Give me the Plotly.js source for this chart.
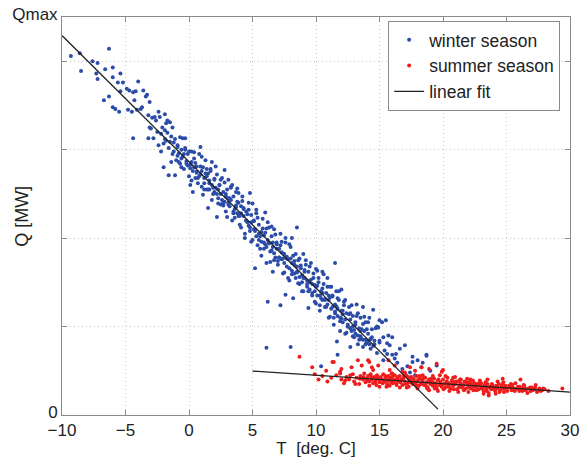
<!DOCTYPE html>
<html>
<head>
<meta charset="utf-8">
<script src="https://cdn.plot.ly/plotly-3.0.1.min.js"></script>
<style>html,body{margin:0;padding:0;background:#fff;}#chart{width:581px;height:458px;}</style>
</head>
<body>
<div id="chart"></div>
<script>
// Winter season points: [T (deg C), Q (units where Qmax = 4.5)]
const winterPoints = [
[-9.3,4.06],[-8.6,4.09],[-8.5,3.89],[-7.6,4.00],[-7.2,3.98],[-7.3,3.86],[-7.2,3.80],[-6.6,3.91],[-6.3,4.14],[-6.0,3.93],
[-5.4,3.86],[-6.0,3.82],[-5.6,3.76],[-5.4,3.66],[-4.9,3.69],[-4.7,3.67],[-4.0,3.77],[-6.7,3.56],[-6.3,3.60],[-6.0,3.48],
[-5.8,3.46],[-5.5,3.43],[-4.4,3.65],[-4.3,3.56],[-3.6,3.67],[-3.3,3.62],[-3.1,3.54],[-4.5,3.43],[-4.1,3.45],[-3.7,3.48],
[-3.2,3.39],[-2.9,3.36],[-2.6,3.33],[-2.3,3.37],[-1.9,3.40],[-1.7,3.33],[-1.5,3.31],[-1.3,3.25],[-2.1,3.25],[-1.9,3.22],
[-3.1,3.25],[-2.5,3.20],[-1.7,3.19],[-4.4,3.13],[-3.2,3.13],[-2.8,3.13],[-0.7,3.14],[-0.3,3.13],
[-2.4,3.05],[-2.2,2.98],[-2.0,2.80],[-1.8,3.10],[-1.6,3.02],[-1.6,2.71],[-1.4,3.15],[-1.3,2.95],[-1.2,3.08],[-1.1,2.71],
[-1.0,2.88],[-0.9,3.05],[-0.8,2.96],[-0.7,2.84],[-0.6,3.00],[-0.5,2.92],[-0.4,2.78],[-0.3,3.02],[-0.2,2.87],[-0.1,2.95],
[0.0,2.70],[0.1,2.60],[0.1,2.83],[0.2,2.98],[0.3,2.52],[0.3,2.76],[0.4,2.90],[0.5,2.68],[0.6,2.81],[0.7,2.62],
[0.8,2.95],[0.9,3.03],[0.9,2.72],[1.0,2.58],[1.1,2.80],[1.2,2.68],[1.3,2.88],[1.4,2.55],[1.5,2.34],[1.5,2.73],[1.6,2.62],
[1.7,2.78],[1.8,2.86],[1.9,2.50],[2.0,2.66],[2.1,2.57],[2.2,2.24],[2.2,2.72],[2.3,2.45],[2.4,2.60],[2.5,2.38],
[2.6,2.68],[2.7,2.52],[2.8,2.77],[2.8,2.41],[2.9,2.30],[3.0,2.55],[3.1,2.66],[3.1,2.45],[3.2,2.36],[3.3,2.58],
[3.4,2.20],[3.5,2.47],[3.6,2.33],[3.7,2.52],[3.8,2.56],[3.8,2.28],[3.9,2.40],[4.0,2.15],[4.1,2.36],[4.2,2.47],
[4.3,2.25],[4.4,2.05],[4.5,2.30],[4.6,2.18],[4.7,2.40],[4.8,2.51],[4.8,2.12],[4.9,2.26],[5.0,1.98],[5.1,2.20],
[5.2,2.08],[5.3,2.32],[5.4,1.92],[5.5,2.15],[5.6,2.02],[5.7,1.80],[5.8,2.22],[5.9,1.95],[6.0,2.29],[6.0,2.06],
[6.1,1.72],[6.2,1.98],[6.3,2.12],[6.4,1.85],[6.5,2.02],[6.6,1.62],[6.6,1.90],[6.7,2.10],[6.8,1.78],[6.9,1.95],
[7.0,1.70],[7.1,1.88],[7.2,2.05],[7.3,1.76],[7.4,1.60],[7.5,1.82],[7.6,1.95],[7.7,1.68],[7.8,1.76],[7.9,1.52],
[8.0,1.90],[8.1,1.63],[5.2,1.66],[6.2,1.28],[7.2,1.24],[7.6,1.36],[8.1,2.00],
[8.2,1.32],[8.2,1.80],[8.3,1.70],[8.4,1.55],[8.5,2.12],[8.5,1.62],[8.6,1.75],[8.7,1.48],[8.8,1.66],[8.9,1.58],
[9.0,1.82],[9.0,1.40],[9.1,1.55],[9.2,1.70],[9.3,1.45],[9.4,1.21],[9.4,1.62],[9.5,1.50],[9.6,1.72],[9.7,1.38],
[9.8,1.55],[9.9,1.28],[10.0,1.65],[10.0,1.45],[10.1,1.35],[10.2,1.55],[10.3,1.18],[10.4,1.40],[10.5,1.62],[10.5,1.30],
[10.6,1.48],[10.7,1.22],[10.8,1.38],[10.9,1.55],[11.0,1.10],[11.0,1.30],[11.1,1.45],[11.2,1.20],[11.3,1.35],[11.4,1.02],
[11.5,1.72],[11.5,1.25],[11.6,1.40],[11.7,1.12],[11.8,1.30],[11.9,0.95],[12.0,1.18],[12.0,1.42],[11.65,0.83],[11.7,0.68],
[12.1,1.05],[12.2,1.28],[12.3,0.92],[12.4,1.15],[12.5,1.00],[12.6,1.22],[12.7,0.77],[12.7,1.08],[12.8,0.95],[12.9,1.12],
[13.0,0.88],[13.1,1.02],[13.2,1.25],[13.3,0.80],[13.4,0.98],[13.5,1.10],[13.6,0.86],[13.7,0.77],[13.7,1.22],[13.8,0.95],
[13.9,1.05],[14.0,0.82],[14.1,0.92],[14.2,1.10],[14.3,0.75],[14.4,0.88],[14.5,1.19],[14.6,0.80],[14.7,0.98],[14.8,0.70],
[14.9,0.99],[15.0,1.07],[15.0,0.82],[15.2,1.05],[15.3,0.62],[15.4,0.73],[15.5,1.07],[15.6,0.81],[15.7,0.90],[15.8,0.79],
[16.0,0.68],[16.2,0.64],[16.4,0.59],[16.6,0.75],[16.8,0.52],[17.0,0.79],[17.2,0.55],[17.4,0.48],[17.6,0.60],[17.6,0.66],
[17.8,0.45],[18.0,0.62],[18.3,0.54],[18.4,0.59],[18.7,0.67],[18.7,0.68],[19.0,0.50],[19.5,0.56],
[6.1,0.76],[8.0,0.77],[10.4,0.55],
[-2.2,3.18],[-1.9,3.12],[-1.5,3.09],[-1.2,2.98],[-0.9,2.93],[-0.6,2.90],[-0.4,2.95],[-0.1,2.82],[0.2,2.86],[0.4,2.80],
[0.6,2.74],[0.8,2.70],[1.0,2.76],[1.2,2.62],[1.4,2.70],[1.6,2.55],[1.8,2.60],[2.0,2.52],[2.3,2.55],[2.5,2.50],
[2.7,2.40],[2.9,2.47],[3.1,2.38],[3.3,2.43],[3.5,2.30],[3.7,2.35],[3.9,2.25],[4.1,2.28],[4.3,2.33],[4.5,2.20],
[4.7,2.14],[4.9,2.18],[5.1,2.10],[5.3,2.02],[5.5,2.05],[5.7,1.96],[5.9,2.03],[6.1,1.90],[6.3,1.95],[6.5,1.86],
[6.7,1.83],[6.9,1.88],[7.1,1.78],[7.3,1.84],[7.5,1.72],[7.7,1.77],[7.9,1.66],[8.1,1.72],[8.3,1.60],[8.5,1.68],
[8.7,1.56],[8.9,1.50],[9.1,1.62],[9.3,1.52],[9.5,1.42],[9.7,1.48],[9.9,1.40],[10.1,1.46],[10.3,1.35],[10.5,1.38],
[10.7,1.30],[10.9,1.25],[11.1,1.33],[11.3,1.22],[11.5,1.15],[11.7,1.20],[11.9,1.10],[12.1,1.14],[12.3,1.08],[12.5,1.02],
[12.7,0.98],[12.9,1.00],[13.1,0.92],[13.3,0.90],[13.5,0.95],[13.7,0.85],[13.9,0.80],[14.1,0.84],[14.3,0.86],[14.5,0.78],
[-5.2,3.76],[-4.8,3.45],[-4.2,3.66],[-3.8,3.46],[-3.4,3.60],[-3.0,3.24],[-2.7,3.37],[-2.4,3.43],[-2.0,3.07],[-1.8,3.30],
[-1.4,2.86],[-1.1,3.12],[-0.8,2.86],[-0.5,3.13],[-0.2,2.84],[0.0,2.98],[0.2,2.65],[0.5,2.85],[0.7,2.68],[1.0,2.92],
[1.1,2.49],[1.3,2.73],[1.5,2.55],[1.7,2.76],[1.9,2.57],[2.1,2.81],[2.3,2.39],[2.4,2.60],[2.6,2.43],[2.8,2.63],
[3.0,2.24],[3.2,2.45],[3.4,2.60],[3.6,2.23],[3.8,2.41],[4.0,2.25],[4.2,2.42],[4.4,2.00],[4.6,2.27],[4.8,2.08],
[5.0,2.39],[5.2,2.10],[5.4,2.23],[5.6,1.88],[5.8,2.11],[6.0,1.93],[6.2,2.18],[6.4,1.73],[6.6,1.95],[6.8,2.04],
[7.0,1.74],[7.2,1.92],[7.4,1.77],[7.6,2.00],[7.8,1.55],[8.0,1.77],[8.2,1.60],[8.4,1.82],[8.6,1.49],[8.8,1.69],
[9.0,1.55],[9.2,1.75],[9.4,1.40],[9.6,1.53],[9.8,1.60],[10.0,1.26],[10.2,1.50],[10.4,1.32],[10.6,1.59],[10.8,1.22],
[11.0,1.35],[11.2,1.45],[11.4,1.10],[11.6,1.23],[11.8,1.40],[12.0,1.09],[12.2,1.24],[12.4,0.93],[12.6,1.14],[12.8,1.24],
[13.0,0.96],[13.2,1.12],[13.4,0.85],[13.6,0.97],[13.8,1.11],[14.0,0.97],[14.2,0.80],[14.4,0.97],[14.6,0.84],[14.8,1.00],
[15.0,0.84],[15.3,0.88],[15.6,0.69],[16.0,0.88],[16.3,0.69],
[-0.9,3.03],[-0.6,2.80],[-0.3,3.00],[0.1,2.79],[0.4,2.97],[0.6,2.75],[0.9,2.81],[1.2,2.55],[1.4,2.78],[1.6,2.65],
[1.8,2.43],[2.0,2.67],[2.2,2.50],[2.5,2.66],[2.7,2.37],[2.9,2.50],[3.1,2.40],[3.3,2.57],[3.5,2.28],[3.7,2.37],
[3.9,2.51],[4.1,2.12],[4.3,2.34],[4.5,2.20],[4.7,2.32],[4.9,1.96],[5.1,2.19],[5.3,2.28],[5.5,1.98],[5.7,2.07],
[5.9,1.88],[6.1,2.11],[6.3,1.94],[6.5,2.13],[6.7,1.75],[6.9,1.93],[7.1,1.78],[7.3,1.96],[7.5,1.61],[7.7,1.79],
[7.9,1.93],[8.1,1.59],[8.3,1.74],[8.5,1.61],[8.7,1.77],[8.9,1.40],[9.1,1.64],[9.3,1.48],[9.5,1.68],[9.7,1.35],
[9.9,1.47],[10.1,1.63],[10.3,1.24],[10.5,1.43],[10.7,1.31],[10.9,1.45],[11.1,1.11],[11.3,1.34],[11.5,1.17],[11.7,1.32],
[11.9,1.06],[12.1,1.18],[12.3,1.30],[12.5,1.00],[12.7,1.15],[12.9,0.89],[13.1,1.05],[13.3,1.15],[13.5,0.89],[13.7,1.03],
[13.9,0.85],[14.1,1.05],[14.3,0.86]
];

// Summer season points: [T (deg C), Q]
const summerPoints = [
[8.7,0.66],[9.7,0.54],[10.2,0.40],[11.4,0.60],[11.9,0.47],[12.0,0.40],[12.8,0.54],[13.3,0.62],[14.1,0.62],[14.4,0.54],
[14.9,0.56],[19.5,0.58],[19.9,0.49],[20.2,0.44],[21.4,0.40],[23.5,0.40],[24.7,0.41],[26.1,0.40],[29.4,0.30],
[11.3,0.60],[11.9,0.49],[13.6,0.56],[14.2,0.60],[14.5,0.51],[15.7,0.62],[15.8,0.51],[16.8,0.49],[17.4,0.54],[18.3,0.54],[20.0,0.51],
[10.5,0.44],[10.9,0.38],[11.2,0.42],[11.6,0.45],[12.2,0.36],[12.4,0.43],[12.6,0.40],[12.9,0.46],[13.0,0.38],[13.2,0.42],
[13.4,0.35],[13.5,0.44],[13.7,0.40],[13.8,0.47],[13.9,0.37],
[14.0,0.41],[14.1,0.44],[14.2,0.38],[14.3,0.46],[14.4,0.40],[14.5,0.36],[14.6,0.43],[14.7,0.39],[14.8,0.45],[14.9,0.41],
[15.0,0.37],[15.1,0.43],[15.2,0.40],[15.3,0.46],[15.4,0.38],[15.5,0.42],[15.6,0.35],[15.7,0.44],[15.8,0.40],[15.9,0.37],
[16.0,0.43],[16.1,0.39],[16.2,0.45],[16.3,0.36],[16.4,0.41],[16.5,0.38],[16.6,0.44],[16.7,0.40],[16.8,0.34],[16.9,0.42],
[17.0,0.38],[17.1,0.45],[17.2,0.36],[17.3,0.41],[17.4,0.39],[17.5,0.43],[17.6,0.35],[17.7,0.40],[17.8,0.37],[17.9,0.44],
[18.0,0.38],[18.1,0.33],[18.2,0.41],[18.3,0.36],[18.4,0.39],[18.5,0.34],[18.6,0.42],[18.7,0.37],[18.8,0.31],[18.9,0.40],
[19.0,0.35],[19.1,0.38],[19.2,0.33],[19.3,0.41],[19.4,0.36],[19.5,0.30],[19.6,0.39],[19.7,0.34],[19.8,0.37],[19.9,0.32],
[20.0,0.40],[20.1,0.35],[20.2,0.31],[20.3,0.38],[20.4,0.34],[20.5,0.36],[20.6,0.30],[20.7,0.39],[20.8,0.33],[20.9,0.37],
[21.0,0.35],[21.1,0.29],[21.2,0.38],[21.3,0.33],[21.4,0.36],[21.5,0.31],[21.6,0.34],[21.7,0.38],[21.8,0.30],[21.9,0.35],
[22.0,0.33],[22.1,0.37],[22.2,0.30],[22.3,0.34],[22.4,0.28],[22.5,0.36],[22.6,0.32],[22.7,0.35],[22.8,0.29],[22.9,0.33],
[23.0,0.36],[23.1,0.31],[23.2,0.27],[23.3,0.34],[23.4,0.30],[23.5,0.35],[23.6,0.25],[23.7,0.32],[23.8,0.29],[23.9,0.34],
[24.0,0.31],[24.1,0.27],[24.2,0.33],[24.3,0.30],[24.4,0.35],[24.5,0.28],[24.6,0.32],[24.7,0.30],[24.8,0.26],[24.9,0.33],
[25.0,0.30],[25.2,0.33],[25.4,0.28],[25.5,0.31],[25.7,0.29],[25.9,0.32],[26.0,0.27],[26.2,0.30],[26.4,0.33],[26.5,0.28],
[26.7,0.30],[26.9,0.27],[27.0,0.31],[27.2,0.29],[27.4,0.26],[27.6,0.30],[27.8,0.28],[28.0,0.29],[28.3,0.27],
[14.2,0.33],[15.0,0.32],[15.8,0.33],[16.6,0.31],[17.3,0.32],[18.0,0.30],[18.9,0.28],[19.6,0.27],[20.5,0.27],[21.2,0.26],
[22.0,0.26],[23.2,0.24],[23.6,0.22],[16.0,0.47],[17.0,0.48],[18.4,0.45],[19.2,0.44],[20.8,0.42],[21.9,0.41],[22.9,0.39],
[24.3,0.38],[25.7,0.36],[27.3,0.34],
[14.05,0.39],[14.35,0.43],[14.65,0.37],[14.85,0.42],[15.05,0.40],[15.25,0.36],[15.45,0.44],[15.65,0.39],[15.85,0.42],[16.05,0.36],
[16.25,0.40],[16.45,0.43],[16.65,0.37],[16.85,0.40],[17.05,0.35],[17.25,0.43],[17.45,0.37],[17.65,0.41],[17.85,0.34],[18.05,0.40],
[18.25,0.35],[18.45,0.42],[18.65,0.33],[18.85,0.38],[19.05,0.41],[19.25,0.36],[19.45,0.33],[19.65,0.40],[19.85,0.35],[20.05,0.29],
[20.25,0.37],[20.45,0.32],[20.65,0.35],[20.85,0.29],[21.05,0.38],[21.25,0.31],[21.45,0.34],[21.65,0.28],[21.85,0.37],[22.05,0.31],
[22.25,0.35],[22.45,0.32],[22.65,0.28],[22.85,0.36],[23.05,0.30],[23.25,0.33],[23.45,0.27],[23.65,0.31],[23.85,0.35],[24.05,0.29],
[24.25,0.32],[24.45,0.26],[24.65,0.34],[24.85,0.30],[25.05,0.27],[25.25,0.31],[25.45,0.34],[25.65,0.27],[25.85,0.30],[26.05,0.32],
[26.25,0.27],[26.45,0.30],[26.65,0.25],[26.85,0.31],[27.05,0.28],[27.25,0.31],[27.5,0.28],[27.7,0.27],[27.9,0.30],
[14.75,0.34],[15.55,0.32],[16.35,0.34],[17.15,0.31],[17.95,0.33],[18.75,0.30],[19.35,0.30],[20.35,0.42],[21.35,0.40],[22.35,0.39],
[23.35,0.37],[24.15,0.24],[24.75,0.37],[25.35,0.35],[26.35,0.34],[15.95,0.47],[16.95,0.45],[18.15,0.44],[19.75,0.45],[20.95,0.43],
[22.15,0.40],[12.3,0.39],[12.7,0.45],[13.1,0.35],[13.45,0.41],[13.75,0.43],[12.0,0.52],[10.8,0.50],[9.9,0.46],[16.2,0.56],
[17.8,0.50],[18.9,0.52]
];

// Linear fits: [intercept at T=0, slope per deg C] and T range of each drawn line
const winterFitCoef = [2.863, -0.1427];
const winterFitRange = [-10, 19.6];
const summerFitCoef = [0.5445, -0.0095];
const summerFitRange = [5, 30];

const xTickVals = [-10, -5, 0, 5, 10, 15, 20, 25, 30];
const yTickVals = [0, 1, 2, 3, 4, 4.5];
const yTickText = ['0', '', '', '', '', 'Qmax'];

const fitLine = (c, r) => r.map(t => c[0] + c[1] * t);
const fitX = winterFitRange.concat([null], summerFitRange);
const fitY = fitLine(winterFitCoef, winterFitRange).concat([null], fitLine(summerFitCoef, summerFitRange));

const FAM = 'Liberation Sans, Arial, sans-serif';
const tickFont = {family: FAM, size: 17, color: '#222'};
const titleFont = {family: FAM, size: 17, color: '#222'};
const yTitleFont = {family: FAM, size: 18, color: '#222'};
const legendFont = {family: FAM, size: 17.5, color: '#222'};

const traces = [
  {x: winterPoints.map(p => p[0]), y: winterPoints.map(p => p[1]), type: 'scatter', mode: 'markers',
   name: 'winter season', marker: {color: '#2b4ca8', size: 4}},
  {x: summerPoints.map(p => p[0]), y: summerPoints.map(p => p[1]), type: 'scatter', mode: 'markers',
   name: 'summer season', marker: {color: '#f01c1c', size: 4}},
  {x: fitX, y: fitY, type: 'scatter', mode: 'lines', name: 'linear fit',
   line: {color: '#222', width: 1.3}, connectgaps: false}
];

const axisCommon = {
  showline: true, linecolor: '#8a8a8a', linewidth: 1, mirror: 'ticks',
  ticks: 'inside', ticklen: 5, tickcolor: '#8a8a8a',
  showgrid: true, gridcolor: '#c8c8c8', griddash: '1px,3px', gridwidth: 1,
  zeroline: false, tickfont: tickFont, automargin: false
};

const layout = {
  width: 581, height: 458,
  margin: {l: 62, r: 11, t: 17, b: 43},
  paper_bgcolor: '#fff', plot_bgcolor: '#fff',
  font: tickFont,
  showlegend: true,
  legend: {x: 0.642, xanchor: 'left', y: 0.99, yanchor: 'top', bgcolor: '#fff',
           bordercolor: '#8a8a8a', borderwidth: 1, font: legendFont, tracegroupgap: 0},
  xaxis: Object.assign({}, axisCommon, {range: [-10, 30], tickvals: xTickVals,
    title: {text: 'T\u00a0\u00a0[deg. C]', font: titleFont, standoff: 8}}),
  yaxis: Object.assign({}, axisCommon, {range: [0, 4.5], tickvals: yTickVals, ticktext: yTickText,
    ticklabelshift: -3}),
  annotations: [{text: 'Q [MW]', xref: 'paper', yref: 'paper', x: -0.079, y: 0.5,
    xanchor: 'center', yanchor: 'middle', textangle: -90, showarrow: false, font: yTitleFont}]
};

Plotly.newPlot('chart', traces, layout, {displayModeBar: false, staticPlot: true});
</script>
</body>
</html>
